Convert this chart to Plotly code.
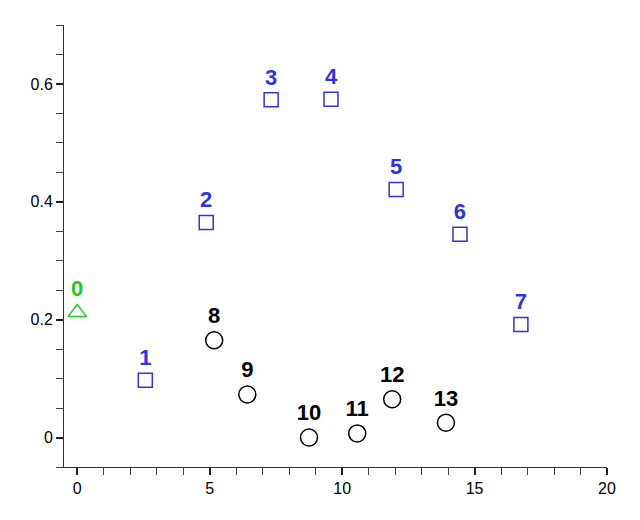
import plotly.graph_objects as go

# blue squares
sq_x = [2.57, 4.87, 7.32, 9.58, 12.04, 14.45, 16.75]
sq_y = [0.097, 0.365, 0.573, 0.574, 0.421, 0.345, 0.192]
sq_lab = ['1', '2', '3', '4', '5', '6', '7']

# black circles
ci_x = [5.17, 6.42, 8.75, 10.57, 11.89, 13.92]
ci_y = [0.165, 0.073, 0.0, 0.007, 0.065, 0.025]
ci_lab = ['8', '9', '10', '11', '12', '13']

# green triangle
tr_x = [0.0]
tr_y = [0.212]
tr_lab = ['0']

blue = '#3232dc'
green = '#22c822'

fig = go.Figure()
fig.add_trace(go.Scatter(
    x=sq_x, y=sq_y, text=sq_lab, mode='markers+text',
    textposition='top center',
    textfont=dict(family='Arial', size=22, color=blue, weight='bold'),
    marker=dict(symbol='square-open', size=14, color=blue, line=dict(width=1.5)),
))
fig.add_trace(go.Scatter(
    x=ci_x, y=ci_y, text=ci_lab, mode='markers+text',
    textposition='top center',
    textfont=dict(family='Arial', size=22, color='black', weight='bold'),
    marker=dict(symbol='circle-open', size=17, color='black', line=dict(width=1.5)),
))
fig.add_trace(go.Scatter(
    x=tr_x, y=tr_y, text=tr_lab, mode='markers+text',
    textposition='top center',
    textfont=dict(family='Arial', size=22, color=green, weight='bold'),
    marker=dict(symbol='triangle-up-open', size=16, color=green, line=dict(width=1.5)),
))

axis_common = dict(
    showgrid=False, zeroline=False, showline=True, linecolor='#333333', linewidth=1,
    ticks='outside', ticklen=7, tickwidth=2, tickcolor='#222222',
    tickfont=dict(family='Arial', size=16, color='black'),
)
# page body has an 8px margin, so the figure is shrunk by 8px
fig.update_layout(
    width=632, height=512,
    margin=dict(l=56, r=33, t=17, b=53),
    plot_bgcolor='white', paper_bgcolor='white',
    showlegend=False,
    xaxis=dict(range=[-0.5, 20], tickvals=[0, 5, 10, 15, 20],
               minor=dict(dtick=1, ticks='outside', ticklen=7, tickcolor='#444444', tickwidth=1),
               **axis_common),
    yaxis=dict(range=[-0.05, 0.7], tickvals=[0, 0.2, 0.4, 0.6],
               minor=dict(dtick=0.05, tick0=0, ticks='outside', ticklen=7, tickcolor='#444444', tickwidth=1),
               **axis_common),
)

fig.write_html('out.html')
